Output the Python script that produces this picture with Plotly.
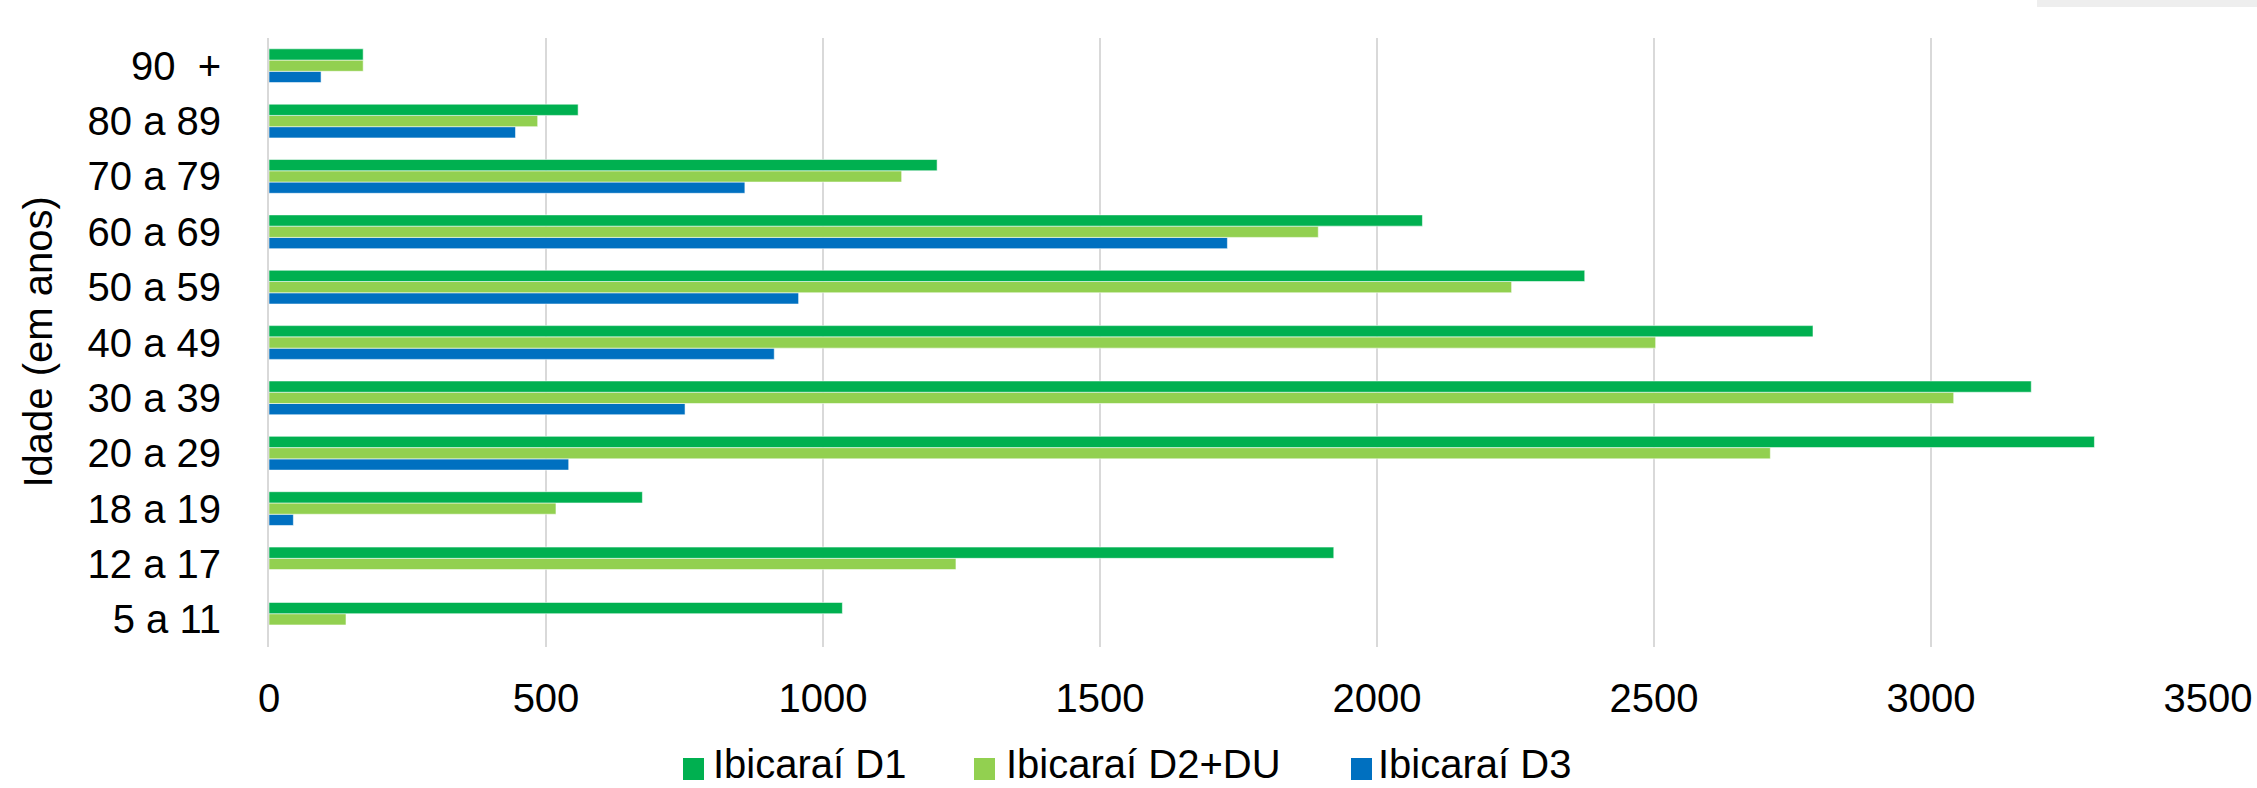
import plotly.graph_objects as go

# ---- data (bottom to top on the category axis) ----
categories = ["5 a 11", "12 a 17", "18 a 19", "20 a 29", "30 a 39", "40 a 49",
              "50 a 59", "60 a 69", "70 a 79", "80 a 89", "90  +"]
tick_text = [c.replace("  ", "\u00a0\u00a0") for c in categories]
d1 = [1035, 1922, 674, 3295, 3181, 2787, 2375, 2082, 1206, 558, 170]
d2 = [139, 1240, 518, 2710, 3041, 2503, 2243, 1894, 1142, 485, 170]
d3 = [None, None, 44, 541, 751, 912, 956, 1730, 859, 445, 94]
series_names = ["Ibicaraí D1", "Ibicaraí D2+DU", "Ibicaraí D3"]
series_values = [d1, d2, d3]
colors = ["#00B050", "#92D050", "#0070C0"]
x_ticks = [0, 500, 1000, 1500, 2000, 2500, 3000, 3500]
y_title = "Idade (em anos)"

# ---- layout geometry (pixels) ----
W, H = 2257, 788
L, R, T, B = 269, 49, 38, 141
PW, PH = W - L - R, H - T - B


def px_x(px):
    return (px - L) / PW


def px_y(py):
    return (H - B - py) / PH


FONT = "Liberation Sans, Arial, sans-serif"

fig = go.Figure()
# reversed so that D1 sits on top inside each group
for name, vals, color in reversed(list(zip(series_names, series_values, colors))):
    fig.add_trace(go.Bar(
        y=categories, x=vals, name=name, orientation="h",
        marker=dict(color=color, line=dict(color="rgba(255,255,255,0.55)", width=1)),
        showlegend=False,
    ))

fig.update_layout(
    width=W, height=H,
    margin=dict(l=L, r=R, t=T, b=B, pad=0),
    paper_bgcolor="white", plot_bgcolor="white",
    font=dict(family=FONT, size=40, color="black"),
    barmode="group", bargap=0.39, bargroupgap=0,
    showlegend=False,
)
fig.update_xaxes(
    range=[0, 3500], tickvals=x_ticks, ticktext=[str(v) for v in x_ticks],
    showgrid=True, gridcolor="#d9d9d9", gridwidth=1.5,
    zeroline=False, showline=False, ticks="",
    ticklabelstandoff=24, tickfont=dict(size=40), automargin=False,
)
fig.update_yaxes(
    type="category", categoryorder="array", categoryarray=categories,
    tickvals=categories, ticktext=tick_text,
    showgrid=False, zeroline=False, showline=True, linecolor="#d9d9d9", linewidth=2,
    ticks="", ticklabelstandoff=38, tickfont=dict(size=40), automargin=False,
)

annotations = [dict(
    text=y_title, xref="paper", yref="paper", x=px_x(37), y=0.5,
    xanchor="center", yanchor="middle", textangle=-90, showarrow=False,
    font=dict(size=40, family=FONT, color="black"),
)]
shapes = []

# ---- legend (square swatches + text) ----
legend_sq_x = [683, 974, 1351]
legend_txt_x = [712, 1005, 1377]
sq_top, sq_bot = 758, 780
for i, (name, color) in enumerate(zip(series_names, colors)):
    shapes.append(dict(
        type="rect", xref="paper", yref="paper",
        x0=px_x(legend_sq_x[i]), x1=px_x(legend_sq_x[i] + 21),
        y0=px_y(sq_bot), y1=px_y(sq_top),
        fillcolor=color, line=dict(width=0),
    ))
    annotations.append(dict(
        text=name, xref="paper", yref="paper",
        x=px_x(legend_txt_x[i]), y=px_y(H - 1),
        xanchor="left", yanchor="bottom", showarrow=False, borderpad=0,
        font=dict(size=40, family=FONT, color="black"),
    ))

# faint strip at the top-right corner
shapes.append(dict(
    type="rect", xref="paper", yref="paper",
    x0=px_x(2037), x1=px_x(W), y0=px_y(7), y1=px_y(0),
    fillcolor="#eeeeee", line=dict(width=0),
))

fig.update_layout(annotations=annotations, shapes=shapes)
fig.write_html(
    "out.html",
    config={"displayModeBar": False},
    post_script="document.body.style.margin='0';document.body.style.overflow='hidden';",
)
